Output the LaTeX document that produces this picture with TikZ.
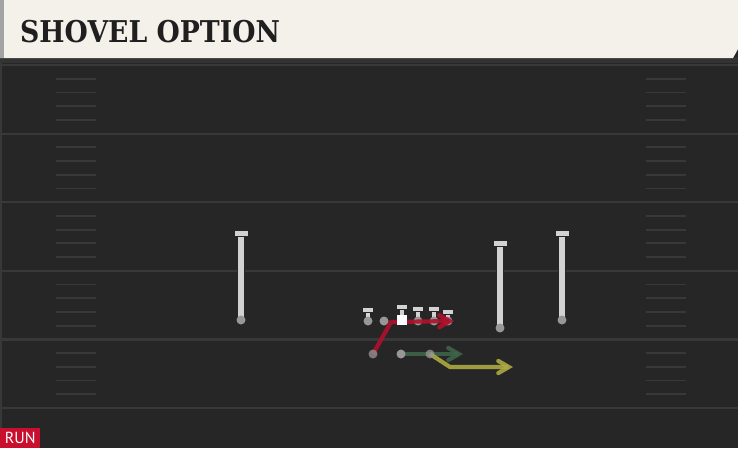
\documentclass[tikz,border=0pt]{standalone}
\usepackage{fontspec}
\usepackage{graphicx}
\usepackage{tikz}
\usetikzlibrary{arrows,positioning,calc}
\newfontfamily\titlefont{DejaVu Serif}
\newfontfamily\tagfont{PT Sans}
\definecolor{fieldgray}{HTML}{262626}
\definecolor{linegray}{HTML}{383838}
\definecolor{cream}{HTML}{F4F1EA}
\definecolor{edgegray}{HTML}{A3A3A3}
\definecolor{dotgray}{HTML}{979797}
\definecolor{stemgray}{HTML}{D2D2D2}
\definecolor{shovelred}{HTML}{B0102C}
\definecolor{qbgreen}{HTML}{3F6449}
\definecolor{pitchyellow}{HTML}{ADA943}
\definecolor{runred}{HTML}{C8102E}

\begin{document}
\begin{tikzpicture}[x=1pt,y=-1pt,>=angle 60,
  yardline/.style={draw=linegray, line width=2.2pt},
  hashmark/.style={draw=linegray, line width=1.8pt},
  dot/.style={circle, fill=dotgray, inner sep=0pt, minimum size=9pt},
  stem/.style={draw=black!85, line width=0.9pt, double=stemgray, double distance=5.4pt},
  tbar/.style={rectangle, draw=black!85, fill=stemgray, line width=0.9pt, minimum width=14pt, minimum height=6pt, inner sep=0pt},
  smallstem/.style={stem, double distance=4.4pt},
  smallbar/.style={tbar, minimum width=11pt, minimum height=5pt},
  route/.style={->, line width=4.2pt, line join=round, draw opacity=0.9}]
 \useasboundingbox (0,0) rectangle (738,448);
 % field
 \fill[fieldgray] (0,0) rectangle (738,448);
 \draw[linegray, line width=2pt] (1,60) -- (1,448);
 \foreach \k in {0,...,5}
   \draw[yardline] (0,65+68.6*\k) -- (738,65+68.6*\k);
 \foreach \k in {0,...,4}
   \foreach \j in {1,...,4} {
     \draw[hashmark] (56,65+68.6*\k+13.72*\j) -- (96,65+68.6*\k+13.72*\j);
     \draw[hashmark] (646,65+68.6*\k+13.72*\j) -- (686,65+68.6*\k+13.72*\j);
   }
 % header
 \fill[black!80] (0,57) rectangle (738,63);
 \fill[cream] (0,0) -- (738,0) -- (738,49) -- (733,58) -- (0,58) -- cycle;
 \fill[edgegray] (0,0) rectangle (4,58);
 \node[anchor=base west, inner sep=0pt, text=black!88, font=\titlefont\bfseries\fontsize{30}{30}\selectfont] (title) at (20,42) {\scalebox{0.89}[1]{SHOVEL OPTION}};

 % receivers
 \foreach \n/\x/\yb/\yt in {wra/241/320/233.5, wrb/500/328/243.5, wrc/562/320/233.5} {
   \coordinate (\n) at (\x,\yb);
   \coordinate (\n top) at (\x,\yt);
   \draw[stem] (\n) -- (\n top);
   \node[tbar] (\n bar) at (\n top) {};
   \node[dot] (\n ball) at (\n) {};
 }
 % line
 \foreach \n/\x/\yt in {lt/368/310, c/402/306.5, rg/418/309, rt/434/309, te/448/311.5} {
   \coordinate (\n) at (\x,321);
   \coordinate (\n top) at (\x,\yt);
   \draw[smallstem] (\n) -- (\n top);
   \node[smallbar] (\n bar) at (\n top) {};
 }
 \node[dot] (lt ball) at (lt) {};
 \node[dot] (lg) at (384,321) {};
 \node[dot] (rg ball) at (rg) {};
 \node[dot] (rt ball) at (rt) {};
 \node[dot] (te ball) at (te) {};
 % backfield
 \coordinate (hb) at (373,354);
 \coordinate (qb) at (401,354);
 \coordinate (rb) at (430,354);
 \coordinate (hb turn) at (391,322);
 \coordinate (hb end) at (454,321);
 \coordinate (qb end) at (463,354);
 \coordinate (rb turn) at (450,367);
 \coordinate (rb end) at (513,367);
 \draw[route, shovelred] (hb) -- (hb turn) -- (hb end);
 \draw[route, qbgreen] (qb) -- (qb end);
 \draw[route, pitchyellow] (rb) -- (rb turn) -- (rb end);
 \node[rectangle, fill=white, inner sep=0pt, minimum size=10pt] (center) at (402,320) {};
 \node[dot, fill opacity=0.75] (hb ball) at (hb) {};
 \node[dot] (qb ball) at (qb) {};
 \node[dot, fill opacity=0.75] (rb ball) at (rb) {};
 % tag
 \node[anchor=south west, fill=runred, text=white, minimum width=40pt, minimum height=20pt, inner sep=0pt, font=\tagfont\fontsize{16}{16}\selectfont] (tag) at (0,448) {RUN};
\end{tikzpicture}
\end{document}
